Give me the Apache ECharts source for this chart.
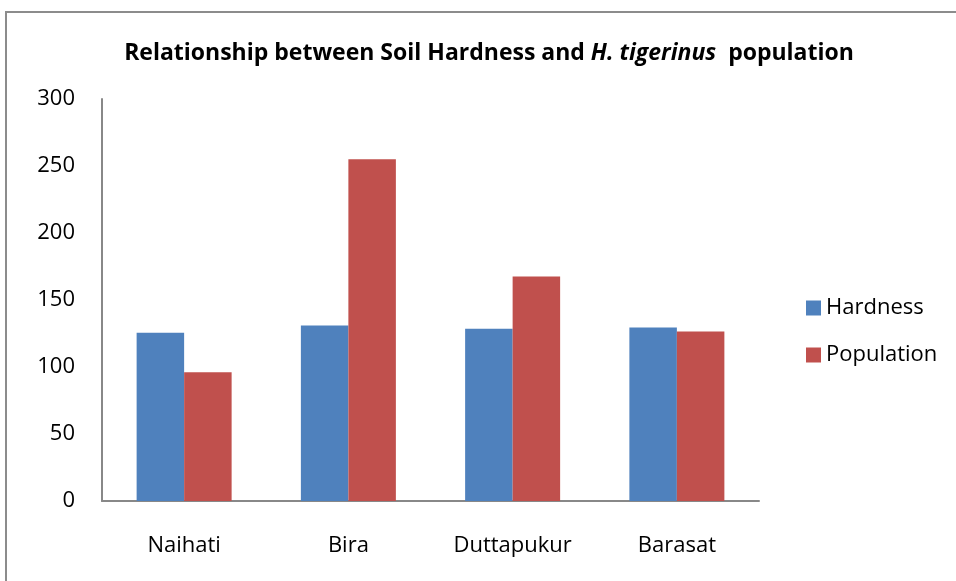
<!DOCTYPE html>
<html>
<head>
<meta charset="utf-8">
<script src="https://cdn.jsdelivr.net/npm/echarts@6/dist/echarts.min.js"></script>
<style>
  html, body { margin: 0; padding: 0; background: #fff; }
  #chart { width: 956px; height: 581px; }
</style>
</head>
<body>
<div id="chart"></div>
<script>
var sites = ['Naihati', 'Bira', 'Duttapukur', 'Barasat'];
var hardness = [125.5, 131, 128.5, 129.5];
var population = [96, 255, 167.5, 126.5];
var yTicks = [0, 50, 100, 150, 200, 250, 300];

var myChart = echarts.init(document.getElementById('chart'));
var font = '"Open Sans", "Noto Sans", sans-serif';

var option = {
    backgroundColor: '#fff',
    animation: false,
    title: {
        text: '{b|Relationship between Soil Hardness and }{i|H. tigerinus}{b|  population}',
        left: 484,
        textAlign: 'center',
        top: 37,
        textStyle: {
            rich: {
                b: { fontFamily: font, fontWeight: 'bold', fontSize: 23, color: '#000' },
                i: { fontFamily: font, fontWeight: 'bold', fontStyle: 'italic', fontSize: 23, color: '#000' }
            }
        }
    },
    legend: {
        orient: 'vertical',
        left: 801,
        top: 292,
        itemWidth: 15,
        itemHeight: 15,
        itemGap: 25,
        icon: 'rect',
        textStyle: { fontFamily: font, fontSize: 22, color: '#000' },
        data: ['Hardness', 'Population']
    },
    grid: {
        left: 102,
        right: 956 - 759,
        top: 99,
        bottom: 581 - 501,
        containLabel: false
    },
    xAxis: {
        type: 'category',
        data: sites,
        axisLine: { lineStyle: { color: '#888', width: 2 } },
        axisTick: { show: false },
        axisLabel: { fontFamily: font, fontSize: 22, color: '#000', margin: 34 }
    },
    yAxis: {
        type: 'value',
        min: yTicks[0],
        max: yTicks[yTicks.length - 1],
        interval: 50,
        axisLine: { show: true, lineStyle: { color: '#888', width: 2 } },
        axisTick: { show: false },
        splitLine: { show: false },
        axisLabel: { fontFamily: font, fontSize: 22, color: '#000', margin: 27 }
    },
    series: [
        {
            name: 'Hardness',
            type: 'bar',
            data: hardness,
            barWidth: 47.5,
            barGap: '0%',
            itemStyle: { color: '#4f81bd' }
        },
        {
            name: 'Population',
            type: 'bar',
            data: population,
            barWidth: 47.5,
            barGap: '0%',
            itemStyle: { color: '#c0504d' }
        }
    ],
    graphic: [
        {
            type: 'rect',
            shape: { x: 6, y: 12, width: 960, height: 600 },
            style: { fill: 'none', stroke: '#8c8c8c', lineWidth: 2 },
            silent: true
        }
    ]
};
myChart.setOption(option);
</script>
</body>
</html>
